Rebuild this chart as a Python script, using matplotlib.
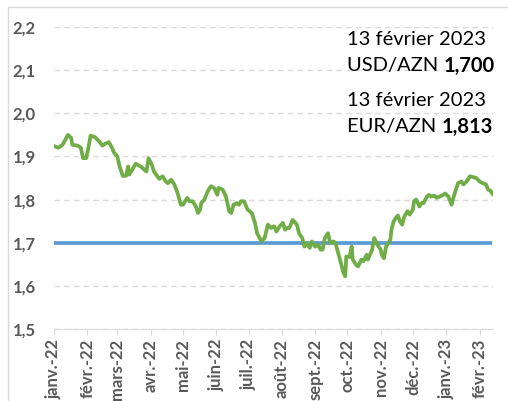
import pandas as pd
import matplotlib.pyplot as plt
import matplotlib.patches as mpatches
import matplotlib.ticker as mtick

# Données : EUR/AZN et USD/AZN (taux fixe)
dates = ['2022-01-01', '2022-01-05', '2022-01-09', '2022-01-14', '2022-01-17', '2022-01-18',
         '2022-01-23', '2022-01-26', '2022-01-28', '2022-01-31', '2022-02-02', '2022-02-04',
         '2022-02-08', '2022-02-12', '2022-02-15', '2022-02-18', '2022-02-21', '2022-02-24',
         '2022-02-26', '2022-03-01', '2022-03-03', '2022-03-06', '2022-03-09', '2022-03-11',
         '2022-03-12', '2022-03-15', '2022-03-18', '2022-03-23', '2022-03-28', '2022-03-30',
         '2022-04-02', '2022-04-04', '2022-04-06', '2022-04-09', '2022-04-12', '2022-04-15',
         '2022-04-17', '2022-04-20', '2022-04-23', '2022-04-26', '2022-04-29', '2022-05-01',
         '2022-05-03', '2022-05-05', '2022-05-07', '2022-05-10', '2022-05-13', '2022-05-15',
         '2022-05-17', '2022-05-18', '2022-05-21', '2022-05-24', '2022-05-27', '2022-05-30',
         '2022-06-02', '2022-06-03', '2022-06-07', '2022-06-10', '2022-06-13', '2022-06-15',
         '2022-06-17', '2022-06-20', '2022-06-22', '2022-06-24', '2022-06-27', '2022-06-30',
         '2022-07-04', '2022-07-07', '2022-07-09', '2022-07-13', '2022-07-16', '2022-07-19',
         '2022-07-22', '2022-07-25', '2022-07-27', '2022-07-30', '2022-08-02', '2022-08-04',
         '2022-08-06', '2022-08-08', '2022-08-11', '2022-08-15', '2022-08-17', '2022-08-20',
         '2022-08-22', '2022-08-24', '2022-08-27', '2022-08-29', '2022-09-01', '2022-09-04',
         '2022-09-06', '2022-09-08', '2022-09-10', '2022-09-13', '2022-09-15', '2022-09-18',
         '2022-09-20', '2022-09-22', '2022-09-25', '2022-09-27', '2022-09-29', '2022-09-30',
         '2022-10-03', '2022-10-05', '2022-10-06', '2022-10-09', '2022-10-11', '2022-10-14',
         '2022-10-16', '2022-10-19', '2022-10-20', '2022-10-22', '2022-10-24', '2022-10-26',
         '2022-10-29', '2022-11-01', '2022-11-02', '2022-11-04', '2022-11-06', '2022-11-08',
         '2022-11-10', '2022-11-11', '2022-11-13', '2022-11-15', '2022-11-17', '2022-11-19',
         '2022-11-21', '2022-11-23', '2022-11-26', '2022-11-28', '2022-12-01', '2022-12-02',
         '2022-12-04', '2022-12-07', '2022-12-09', '2022-12-11', '2022-12-14', '2022-12-16',
         '2022-12-18', '2022-12-21', '2022-12-23', '2022-12-26', '2022-12-28', '2022-12-31',
         '2023-01-03', '2023-01-06', '2023-01-08', '2023-01-10', '2023-01-12', '2023-01-15',
         '2023-01-17', '2023-01-20', '2023-01-23', '2023-01-26', '2023-01-29', '2023-02-01',
         '2023-02-04', '2023-02-07', '2023-02-09', '2023-02-11', '2023-02-13']

eur_azn = [1.924, 1.920, 1.927, 1.950, 1.943, 1.927,
           1.925, 1.920, 1.896, 1.896, 1.920, 1.948,
           1.945, 1.935, 1.925, 1.930, 1.933, 1.920,
           1.908, 1.900, 1.877, 1.855, 1.855, 1.877,
           1.858, 1.870, 1.883, 1.876, 1.865, 1.896,
           1.881, 1.865, 1.858, 1.848, 1.854, 1.842,
           1.838, 1.846, 1.835, 1.815, 1.788, 1.788,
           1.796, 1.804, 1.796, 1.796, 1.784, 1.769,
           1.777, 1.792, 1.800, 1.819, 1.831, 1.827,
           1.811, 1.827, 1.823, 1.807, 1.773, 1.769,
           1.788, 1.792, 1.788, 1.796, 1.796, 1.777,
           1.769, 1.746, 1.722, 1.703, 1.711, 1.742,
           1.734, 1.738, 1.726, 1.738, 1.746, 1.730,
           1.734, 1.734, 1.753, 1.742, 1.722, 1.711,
           1.691, 1.699, 1.688, 1.703, 1.691, 1.695,
           1.684, 1.684, 1.711, 1.722, 1.699, 1.703,
           1.699, 1.680, 1.653, 1.633, 1.622, 1.668,
           1.667, 1.691, 1.661, 1.649, 1.645, 1.661,
           1.657, 1.672, 1.661, 1.672, 1.684, 1.711,
           1.695, 1.684, 1.672, 1.664, 1.691, 1.699,
           1.707, 1.730, 1.749, 1.757, 1.763, 1.749,
           1.742, 1.761, 1.773, 1.765, 1.777, 1.796,
           1.800, 1.784, 1.792, 1.792, 1.807, 1.811,
           1.807, 1.809, 1.804, 1.807, 1.809, 1.814,
           1.807, 1.788, 1.807, 1.823, 1.838, 1.842,
           1.835, 1.842, 1.854, 1.852, 1.850, 1.842,
           1.838, 1.835, 1.823, 1.821, 1.813]

usd_azn = 1.700

mois = ['janv.-22', 'févr.-22', 'mars-22', 'avr.-22', 'mai-22', 'juin-22', 'juil.-22',
        'août-22', 'sept.-22', 'oct.-22', 'nov.-22', 'déc.-22', 'janv.-23', 'févr.-23']

annotations = ['13 février 2023', 'USD/AZN ', '1,700', '13 février 2023', 'EUR/AZN ', '1,813']

# Série
serie = pd.Series(eur_azn, index=pd.to_datetime(dates))
usd = pd.Series(usd_azn, index=serie.index)

plt.rcParams['font.family'] = ['Lato', 'DejaVu Sans']

fig = plt.figure(figsize=(5.08, 4.01), dpi=100)
ax = fig.add_axes([54 / 508, 1 - 329 / 401, (493 - 54) / 508, (329 - 27) / 401])

# Cadre du graphique (coupé en bas/à droite)
fig.patches.append(mpatches.Rectangle((8 / 508, -0.1), 1.2, 394 / 401 + 0.1,
                                      transform=fig.transFigure, fill=False,
                                      edgecolor='#d9d9d9', lw=1, zorder=0))

ax.plot(usd.index, usd.values, color='#5b9bd5', lw=2.7, solid_capstyle='butt', zorder=3)
ax.plot(serie.index, serie.values, color='#70ad47', lw=2.7, solid_joinstyle='round', zorder=4)

ax.set_ylim(1.5, 2.2)
ax.set_yticks([1.5, 1.6, 1.7, 1.8, 1.9, 2.0, 2.1, 2.2])
ax.yaxis.set_major_formatter(mtick.FuncFormatter(lambda v, p: f'{v:.1f}'.replace('.', ',')))
ax.set_xlim(pd.Timestamp('2022-01-01'), pd.Timestamp('2023-02-13 12:00'))
ticks = pd.date_range('2022-01-01', '2023-02-01', freq='MS')
ax.set_xticks(ticks)
ax.set_xticklabels(mois, rotation=90, va='top', ha='center')

ax.grid(axis='y', color='#d9d9d9', lw=1, ls=(0, (4, 3)))
for s in ['left', 'right', 'top']:
    ax.spines[s].set_visible(False)
ax.spines['bottom'].set_color('#d9d9d9')
ax.tick_params(axis='y', length=0, pad=13, labelsize=12, labelcolor='#595959')
ax.tick_params(axis='x', length=4, color='#d9d9d9', pad=3, labelsize=12, labelcolor='#595959')
for lab in ax.get_yticklabels() + ax.get_xticklabels():
    lab.set_fontweight('bold')

# Textes
fs = 14.5
ax.text(0.668, 0.96, annotations[0], transform=ax.transAxes, fontsize=fs, va='center', ha='left')
t = ax.text(0.668, 0.871, annotations[1], transform=ax.transAxes, fontsize=fs, va='center', ha='left')
ax.annotate(annotations[2], xycoords=t, xy=(1, 0.5), va='center', ha='left',
            fontsize=fs, fontweight='bold')
ax.text(0.668, 0.758, annotations[3], transform=ax.transAxes, fontsize=fs, va='center', ha='left')
t2 = ax.text(0.668, 0.669, annotations[4], transform=ax.transAxes, fontsize=fs, va='center', ha='left')
ax.annotate(annotations[5], xycoords=t2, xy=(1, 0.5), va='center', ha='left',
            fontsize=fs, fontweight='bold')

fig.savefig('out.png', dpi=100)
